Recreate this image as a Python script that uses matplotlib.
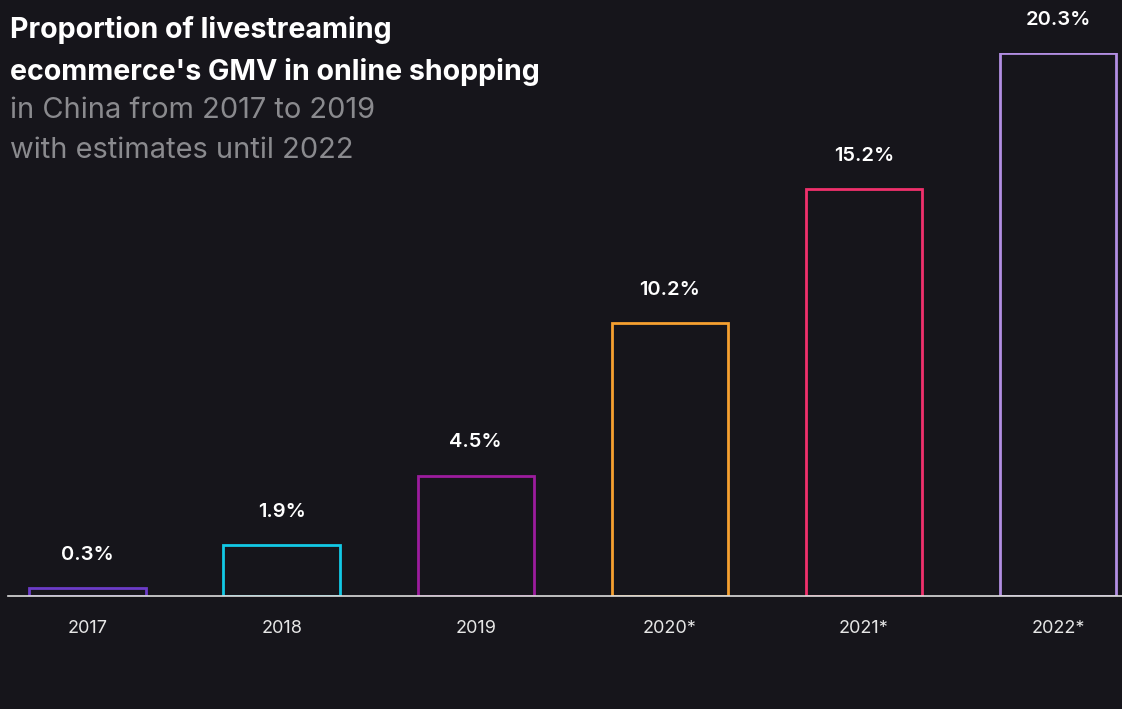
import matplotlib
matplotlib.use("Agg")
import matplotlib.pyplot as plt

# data
years = ["2017", "2018", "2019", "2020*", "2021*", "2022*"]
shares = [0.3, 1.9, 4.5, 10.2, 15.2, 20.3]
labels = ["0.3%", "1.9%", "4.5%", "10.2%", "15.2%", "20.3%"]
colors = ["#6c3cc8", "#12c9e6", "#9c1c9e", "#f5a030", "#f0306c", "#b28ee2"]

bg = "#16151b"
plt.rcParams["font.family"] = ["Inter", "DejaVu Sans"]

fig = plt.figure(figsize=(11.22, 7.09), dpi=100, facecolor=bg)
W, H = 1122, 709
# axes: baseline at y=596px, top of 20.3 bar at y=53px
ax = fig.add_axes([8 / W, (H - 596) / H, 1 - 8 / W, (596 - 53) / H])
ax.set_facecolor(bg)

x = range(len(years))
ax.bar(x, shares, width=0.6, facecolor=bg, edgecolor=colors, linewidth=2.0)
ax.set_xlim(-0.41, 5.33)
ax.set_ylim(0, 20.3)

for i, (v, lab) in enumerate(zip(shares, labels)):
    ax.annotate(lab, (i, v), xytext=(0, 24), textcoords="offset points",
                ha="center", va="center", color="white", fontsize=14.5,
                fontweight="semibold")

for s in ["top", "right", "left"]:
    ax.spines[s].set_visible(False)
ax.spines["bottom"].set_color("#dddddd")
ax.spines["bottom"].set_linewidth(1.2)
ax.set_yticks([])
ax.set_xticks(list(x))
ax.set_xticklabels(years, color="#e6e6e6", fontsize=13)
ax.tick_params(axis="x", length=0, pad=17)

# title block
fig.text(10 / W, 1 - 30 / H, "Proportion of livestreaming", color="white",
         fontsize=20.6, fontweight="bold", va="center", ha="left")
fig.text(10 / W, 1 - 72 / H, "ecommerce's GMV in online shopping", color="white",
         fontsize=20.6, fontweight="bold", va="center", ha="left")
fig.text(10 / W, 1 - 111 / H, "in China from 2017 to 2019", color="#8a8a8e",
         fontsize=20.9, va="center", ha="left")
fig.text(10 / W, 1 - 151 / H, "with estimates until 2022", color="#8a8a8e",
         fontsize=20.9, va="center", ha="left")

fig.savefig("out.png", dpi=100, facecolor=bg)
